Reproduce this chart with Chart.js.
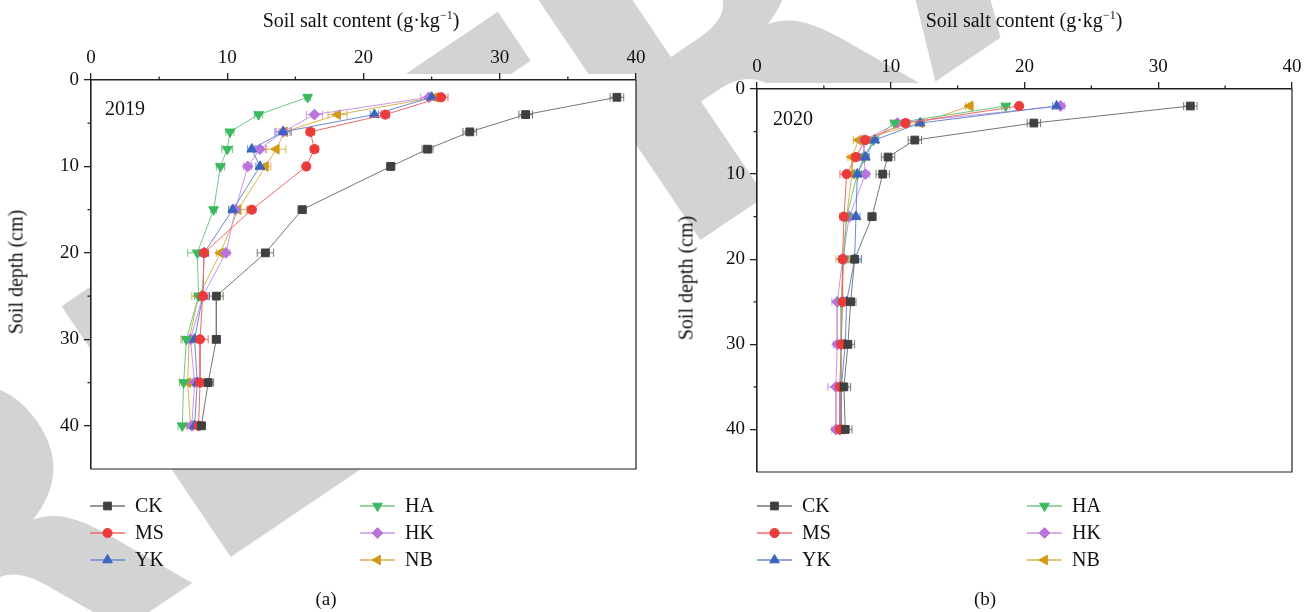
<!DOCTYPE html>
<html>
<head>
<meta charset="utf-8">
<script src="https://cdn.jsdelivr.net/npm/chart.js@4/dist/chart.umd.min.js"></script>
<style>
  body { margin: 0; width: 1315px; height: 612px; position: relative; overflow: hidden; background: #fff;
         font-family: "Liberation Serif", "DejaVu Serif", serif; color: #111; }
  .stamp { position: absolute; left: -30px; top: 395px; font-family: "DejaVu Sans", sans-serif; font-weight: bold;
           font-size: 415px; line-height: 1; color: #d3d3d3; white-space: nowrap;
           transform-origin: 0 100%; transform: rotate(-34deg); z-index: 0; }
  canvas { position: absolute; top: 0; z-index: 1; }
  .lbl { position: absolute; font-size: 20px; white-space: nowrap; z-index: 2; }
  .xt { top: 9px; transform: translateX(-50%); }
  .yt { transform: translate(-50%, -50%) rotate(-90deg); }
  .cap { top: 588px; font-size: 19px; transform: translateX(-50%); }
  sup { font-size: 12px; line-height: 0; }
</style>
</head>
<body>
<div class="stamp">RETRACTED</div>
<canvas id="panelA" width="657" height="612" style="left:0;width:657px;height:612px"></canvas>
<canvas id="panelB" width="658" height="612" style="left:657px;width:658px;height:612px"></canvas>
<div class="lbl xt" style="left:361px">Soil salt content (g·kg<sup>−1</sup>)</div>
<div class="lbl xt" style="left:1024px">Soil salt content (g·kg<sup>−1</sup>)</div>
<div class="lbl yt" style="left:16px;top:272px">Soil depth (cm)</div>
<div class="lbl yt" style="left:686px;top:278px">Soil depth (cm)</div>
<div class="lbl cap" style="left:326px">(a)</div>
<div class="lbl cap" style="left:985px">(b)</div>
<script>
// sampling depths (cm)
const depths = [2, 4, 6, 8, 10, 15, 20, 25, 30, 35, 40];
const treatments = ["CK", "MS", "YK", "HA", "HK", "NB"];
const xTicks = [0, 10, 20, 30, 40];
const yTicks = [0, 10, 20, 30, 40];

// soil salt content, g/kg — 2019
const ck2019 = [38.6, 31.9, 27.8, 24.7, 22.0, 15.5, 12.8, 9.2, 9.2, 8.6, 8.1];
const ms2019 = [25.7, 21.6, 16.1, 16.4, 15.8, 11.8, 8.3, 8.2, 8.0, 8.0, 7.9];
const yk2019 = [25.0, 20.8, 14.1, 11.8, 12.4, 10.4, 8.3, 8.2, 7.6, 7.8, 7.6];
const ha2019 = [15.9, 12.3, 10.2, 10.0, 9.5, 9.0, 7.8, 7.9, 7.0, 6.8, 6.7];
const hk2019 = [24.8, 16.4, 14.1, 12.4, 11.5, 10.6, 9.9, 8.2, 7.3, 7.6, 7.4];
const nb2019 = [25.3, 18.1, 14.2, 13.6, 12.8, 10.8, 9.5, 7.9, 7.2, 7.1, 7.3];

// soil salt content, g/kg — 2020
const ck2020 = [32.4, 20.7, 11.8, 9.8, 9.4, 8.6, 7.3, 7.0, 6.8, 6.5, 6.6];
const ms2020 = [19.6, 11.1, 8.1, 7.4, 6.7, 6.5, 6.4, 6.4, 6.3, 6.2, 6.2];
const yk2020 = [22.4, 12.2, 8.8, 8.1, 7.5, 7.4, 7.3, 6.7, 6.6, 6.3, 6.3];
const ha2020 = [18.6, 10.3, 8.7, 8.0, 7.5, 6.7, 6.5, 6.3, 6.3, 6.3, 6.2];
const hk2020 = [22.7, 10.5, 8.0, 8.0, 8.1, 6.9, 6.4, 6.0, 6.0, 5.9, 5.9];
const nb2020 = [15.9, 12.2, 7.6, 7.1, 7.1, 6.7, 6.4, 6.3, 6.3, 6.2, 6.3];

// standard errors (g/kg)
const ckErr2019 = [0.5, 0.5, 0.5, 0.4, 0.3, 0.3, 0.6, 0.5, 0.3, 0.4, 0.3];
const msErr2019 = [0.5, 0.3, 0.3, 0.3, 0.2, 0.3, 0.3, 0.3, 0.6, 0.3, 0.3];
const ykErr2019 = [0.3, 0.3, 0.6, 0.3, 0.3, 0.3, 0.3, 0.4, 0.3, 0.3, 0.3];
const haErr2019 = [0.2, 0.3, 0.3, 0.4, 0.3, 0.2, 0.7, 0.3, 0.3, 0.3, 0.3];
const hkErr2019 = [0.6, 0.6, 0.5, 0.4, 0.3, 0.3, 0.3, 0.4, 0.4, 0.3, 0.3];
const nbErr2019 = [0.4, 0.7, 0.4, 0.7, 0.4, 0.6, 0.3, 0.5, 0.6, 0.3, 0.3];

const ckErr2020 = [0.5, 0.5, 0.5, 0.5, 0.5, 0.3, 0.5, 0.4, 0.5, 0.5, 0.5];
const msErr2020 = [0.2, 0.3, 0.3, 0.3, 0.5, 0.3, 0.3, 0.3, 0.3, 0.4, 0.3];
const ykErr2020 = [0.3, 0.3, 0.3, 0.3, 0.3, 0.3, 0.5, 0.3, 0.3, 0.3, 0.3];
const haErr2020 = [0.3, 0.3, 0.3, 0.3, 0.3, 0.3, 0.3, 0.3, 0.3, 0.3, 0.3];
const hkErr2020 = [0.3, 0.3, 0.3, 0.3, 0.3, 0.3, 0.3, 0.4, 0.3, 0.6, 0.3];
const nbErr2020 = [0.3, 0.3, 0.4, 0.3, 0.4, 0.3, 0.5, 0.3, 0.4, 0.3, 0.4];

const styles = {
  CK: { mark: "#404040", line: "#767676", shape: "rect", radius: 5.5, rot: 0 },
  MS: { mark: "#ec3b3b", line: "#f06a6a", shape: "circle", radius: 4.6, rot: 0 },
  YK: { mark: "#3c63bd", line: "#6b8ad0", shape: "triangle", radius: 5.6, rot: 0 },
  HA: { mark: "#3cb860", line: "#6ccb85", shape: "triangle", radius: 5.6, rot: 180 },
  HK: { mark: "#b873dc", line: "#c897e4", shape: "rectRot", radius: 5.4, rot: 0 },
  NB: { mark: "#d29a16", line: "#ddb350", shape: "triangle", radius: 5.6, rot: 270 },
};

const serif = "'Liberation Serif', 'DejaVu Serif', serif";

function makeDatasets(values, errs) {
  return treatments.map((name, k) => {
    const s = styles[name];
    return {
      label: name,
      data: depths.map((d, i) => ({ x: values[k][i], y: d })),
      errs: errs[k],
      showLine: true,
      borderColor: s.line,
      borderWidth: 1,
      pointStyle: s.shape,
      pointRotation: s.rot,
      pointRadius: s.radius,
      pointBackgroundColor: s.mark,
      pointBorderColor: s.mark,
      pointBorderWidth: 1,
    };
  });
}

// white plot area, error bars, frame, minor ticks, year tag and legend
const panelDeco = {
  id: "panelDeco",
  beforeDraw(chart) {
    const { ctx, chartArea: a } = chart;
    ctx.save();
    ctx.fillStyle = "#fff";
    ctx.fillRect(a.left, a.top - 6, a.right - a.left, a.bottom - a.top + 6);
    ctx.restore();
  },
  beforeDatasetsDraw(chart) {
    const { ctx } = chart;
    const xs = chart.scales.x;
    ctx.save();
    chart.data.datasets.forEach((ds, k) => {
      const meta = chart.getDatasetMeta(k);
      ctx.strokeStyle = ds.borderColor;
      ctx.lineWidth = 1;
      meta.data.forEach((pt, i) => {
        const v = ds.data[i].x, e = ds.errs[i];
        const x1 = xs.getPixelForValue(v - e), x2 = xs.getPixelForValue(v + e);
        const y = pt.y;
        ctx.beginPath();
        ctx.moveTo(x1, y); ctx.lineTo(x2, y);
        ctx.moveTo(x1, y - 4); ctx.lineTo(x1, y + 4);
        ctx.moveTo(x2, y - 4); ctx.lineTo(x2, y + 4);
        ctx.stroke();
      });
    });
    ctx.restore();
  },
  afterDraw(chart, args, opts) {
    const { ctx, chartArea: a } = chart;
    const xs = chart.scales.x, ys = chart.scales.y;
    ctx.save();
    // thin frame on the open sides
    ctx.strokeStyle = "#222";
    ctx.lineWidth = 1.2;
    ctx.beginPath();
    ctx.moveTo(a.left, a.bottom); ctx.lineTo(a.right, a.bottom); ctx.lineTo(a.right, a.top);
    ctx.stroke();
    // minor ticks
    ctx.lineWidth = 1.3;
    ctx.beginPath();
    [5, 15, 25, 35].forEach(v => {
      const px = xs.getPixelForValue(v);
      ctx.moveTo(px, a.top); ctx.lineTo(px, a.top - 3.5);
      const py = ys.getPixelForValue(v);
      ctx.moveTo(a.left, py); ctx.lineTo(a.left - 3.5, py);
    });
    ctx.stroke();
    // year tag
    ctx.fillStyle = "#111";
    ctx.font = "20px " + serif;
    ctx.textBaseline = "alphabetic";
    ctx.fillText(opts.year, a.left + opts.tagDx, a.top + opts.tagDy);
    // legend in two columns
    chart.data.datasets.forEach((ds, k) => {
      const col = Math.floor(k / 3), row = k % 3;
      const x0 = opts.legendX[col], y = opts.legendY + row * 27;
      ctx.strokeStyle = ds.borderColor;
      ctx.lineWidth = 1.4;
      ctx.beginPath();
      ctx.moveTo(x0, y); ctx.lineTo(x0 + 35, y);
      ctx.stroke();
      ctx.fillStyle = ds.pointBackgroundColor;
      ctx.strokeStyle = ds.pointBorderColor;
      ctx.lineWidth = 1;
      Chart.helpers.drawPoint(ctx, {
        pointStyle: ds.pointStyle, radius: ds.pointRadius, rotation: ds.pointRotation, borderWidth: 1,
      }, x0 + 17.5, y);
      ctx.fillStyle = "#111";
      ctx.font = "20px " + serif;
      ctx.textBaseline = "middle";
      ctx.fillText(ds.label, x0 + 45, y + 1);
    });
    ctx.restore();
  },
};

function makePanel(id, year, values, errs, pad, deco) {
  return new Chart(document.getElementById(id), {
    type: "scatter",
    data: { datasets: makeDatasets(values, errs) },
    plugins: [panelDeco],
    options: {
      responsive: false,
      animation: false,
      layout: { padding: pad },
      plugins: {
        legend: { display: false },
        tooltip: { enabled: false },
        panelDeco: Object.assign({ year }, deco),
      },
      scales: {
        x: {
          type: "linear",
          position: "top",
          min: xTicks[0],
          max: xTicks[xTicks.length - 1],
          afterBuildTicks: s => { s.ticks = xTicks.map(v => ({ value: v })); },
          afterFit: s => { s.height = 40; s.paddingLeft = 0; s.paddingRight = 0; },
          ticks: { color: "#111", font: { family: serif, size: 19 }, padding: 4, maxRotation: 0 },
          grid: { drawOnChartArea: false, tickLength: 7, color: "#222", lineWidth: 1.3 },
          border: { display: true, color: "#222", width: 1.6 },
        },
        y: {
          type: "linear",
          reverse: true,
          min: 0,
          max: 45,
          afterBuildTicks: s => { s.ticks = yTicks.map(v => ({ value: v })); },
          afterFit: s => { s.width = 60; s.paddingTop = 0; s.paddingBottom = 0; },
          ticks: { color: "#111", font: { family: serif, size: 19 }, padding: 5 },
          grid: { drawOnChartArea: false, tickLength: 7, color: "#222", lineWidth: 1.3 },
          border: { display: true, color: "#222", width: 1.6 },
        },
      },
    },
  });
}

makePanel("panelA", "2019",
  [ck2019, ms2019, yk2019, ha2019, hk2019, nb2019],
  [ckErr2019, msErr2019, ykErr2019, haErr2019, hkErr2019, nbErr2019],
  { left: 31, top: 40, right: 21, bottom: 143 },
  { tagDx: 14, tagDy: 35, legendX: [90, 360], legendY: 506 });

makePanel("panelB", "2020",
  [ck2020, ms2020, yk2020, ha2020, hk2020, nb2020],
  [ckErr2020, msErr2020, ykErr2020, haErr2020, hkErr2020, nbErr2020],
  { left: 40, top: 49, right: 23, bottom: 140 },
  { tagDx: 16, tagDy: 36, legendX: [100, 370], legendY: 506 });
</script>
</body>
</html>
